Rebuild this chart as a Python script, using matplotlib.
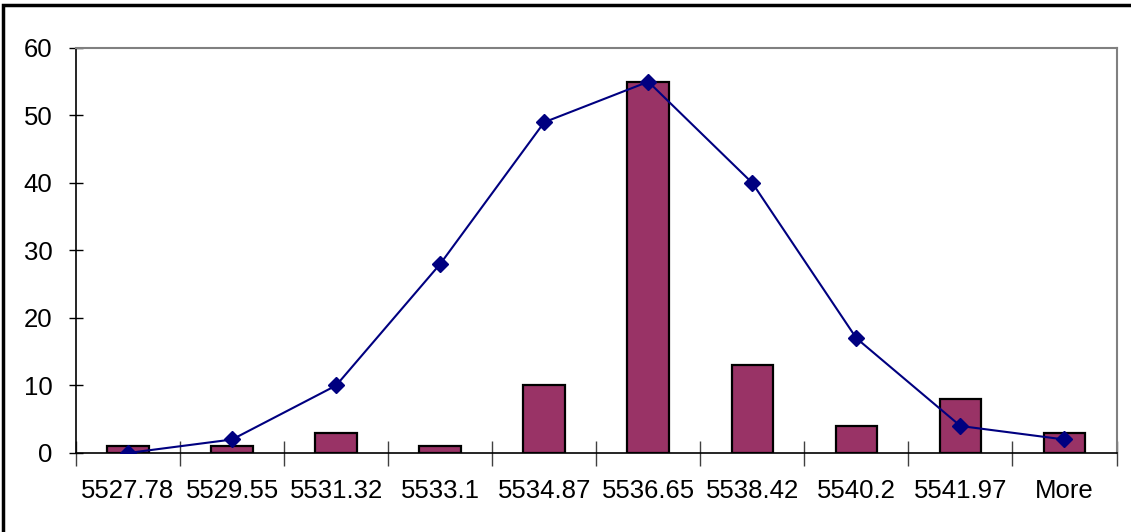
import matplotlib.pyplot as plt
import numpy as np
from matplotlib.patches import Rectangle

plt.rcParams['font.family'] = ['Liberation Sans', 'DejaVu Sans']

bins = ['5527.78', '5529.55', '5531.32', '5533.1', '5534.87',
        '5536.65', '5538.42', '5540.2', '5541.97', 'More']
frequency = [1, 1, 3, 1, 10, 55, 13, 4, 8, 3]
curve = [0, 2, 10, 28, 49, 55, 40, 17, 4, 2]

fig = plt.figure(figsize=(11.31, 5.32), dpi=100)
ax = fig.add_axes([0.0672, 0.1485, 0.92, 0.7613])

x = np.arange(len(bins))
ax.bar(x, frequency, width=0.4, color='#993366', edgecolor='black',
       linewidth=1.6, zorder=2)
ax.plot(x, curve, color='#000080', linewidth=1.5, marker='D',
        markersize=8.5, zorder=3)

ax.set_xlim(-0.5, len(bins) - 0.5)
ax.set_ylim(0, 60)
ax.set_yticks(range(0, 61, 10))
ax.set_xticks(x)
ax.set_xticklabels(bins, fontsize=18.5)
ax.set_yticklabels([str(v) for v in range(0, 61, 10)], fontsize=18.5)
ax.set_xticks(np.arange(-0.5, len(bins)), minor=True)

# Excel style crossing ticks
ax.tick_params(axis='y', direction='inout', length=10, width=1, pad=12)
ax.tick_params(axis='x', which='major', length=0, pad=19)
ax.tick_params(axis='x', which='minor', direction='inout', length=18,
               width=1, color='#404040')

for side in ('top', 'right'):
    ax.spines[side].set_color('#808080')
    ax.spines[side].set_linewidth(1.5)
for side in ('left', 'bottom'):
    ax.spines[side].set_color('black')
    ax.spines[side].set_linewidth(1.2)

# outer chart frame
fig.patches.append(Rectangle((0.003, -0.05), 1.1, 1.04,
                             transform=fig.transFigure, fill=False,
                             edgecolor='black', linewidth=2.5))

fig.savefig('out.png', dpi=100)
